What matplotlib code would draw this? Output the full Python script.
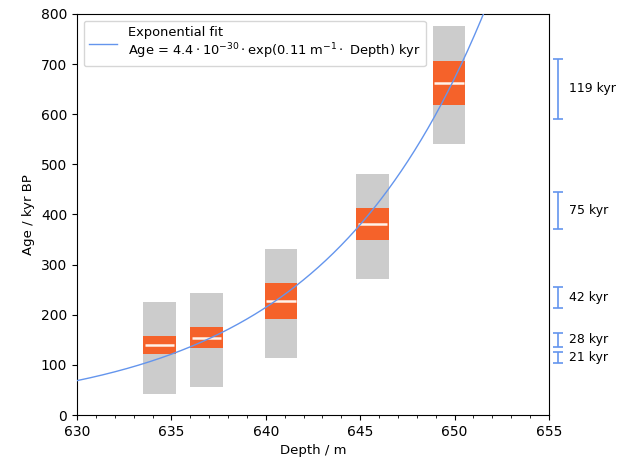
import numpy as np
import matplotlib
matplotlib.use("Agg")
import matplotlib.pyplot as plt
from matplotlib.ticker import MultipleLocator

# Sample boxes (depth in m, ages in kyr BP)
depth_center = [634.38, 636.85, 640.80, 645.64, 649.70]
box_width = 1.72
grey_low = [42, 55, 114, 271, 541]
grey_high = [225, 243, 331, 481, 776]
orange_low = [121, 133, 191, 349, 618]
orange_high = [158, 176, 263, 413, 706]
median_age = [140, 154, 227, 381, 662]

# Exponential fit parameters: Age = A0 * exp(k * (Depth - 630))
fit_A0 = 68.6
fit_k = 0.1141

# Age uncertainty annotations on the right
unc_center = [115, 150, 234, 408, 651]
unc_value = [21, 28, 42, 75, 119]
unc_labels = ["21 kyr", "28 kyr", "42 kyr", "75 kyr", "119 kyr"]

blue = "#6495ED"
orange = "#F5622A"
grey = "#CCCCCC"

fig = plt.figure(figsize=(6.17, 4.66), dpi=100)
ax = fig.add_axes([0.1248, 0.1094, 0.7650, 0.8606])

for i, d in enumerate(depth_center):
    x0 = d - box_width / 2
    ax.add_patch(plt.Rectangle((x0, grey_low[i]), box_width, grey_high[i] - grey_low[i],
                               facecolor=grey, edgecolor="none", zorder=1))
    ax.add_patch(plt.Rectangle((x0, orange_low[i]), box_width, orange_high[i] - orange_low[i],
                               facecolor=orange, edgecolor="none", zorder=2))
    ax.hlines(median_age[i], x0 + 0.08, x0 + box_width - 0.08, color="#FFF3EA",
              lw=1.8, zorder=3)

xs = np.linspace(630, 655, 500)
ys = fit_A0 * np.exp(fit_k * (xs - 630))
ax.plot(xs, ys, color=blue, lw=1.0, zorder=4,
        label="Exponential fit\nAge = $4.4\\cdot10^{-30}\\cdot$exp(0.11 m$^{-1}\\cdot$ Depth) kyr")

for c, v, lab in zip(unc_center, unc_value, unc_labels):
    ax.errorbar([655.48], [c], yerr=[v / 2], color=blue, capsize=3.5, lw=1.2,
                capthick=1.2, clip_on=False, zorder=5)
    ax.text(656.05, c, lab, va="center", ha="left", fontsize=9, clip_on=False)

ax.set_xlim(630, 655)
ax.set_ylim(0, 800)
ax.xaxis.set_major_locator(MultipleLocator(5))
ax.xaxis.set_minor_locator(MultipleLocator(1))
ax.yaxis.set_major_locator(MultipleLocator(100))
ax.set_xlabel("Depth / m", fontsize=9.5)
ax.set_ylabel("Age / kyr BP", fontsize=9.5)
ax.tick_params(labelsize=10)
ax.legend(loc="upper left", fontsize=9.4, handlelength=2.2)

fig.savefig("out.png", dpi=100)
